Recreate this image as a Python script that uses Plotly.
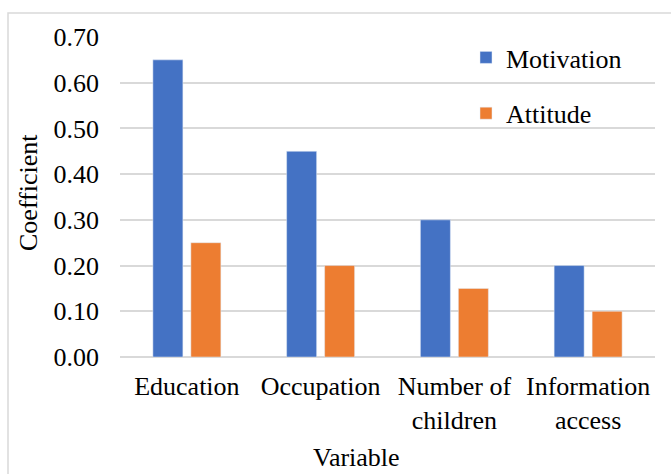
import plotly.graph_objects as go

# Regression coefficients by explanatory variable
categories = ["Education", "Occupation", "Number of<br>children", "Information<br>access"]
motivation = [0.65, 0.45, 0.30, 0.20]
attitude = [0.25, 0.20, 0.15, 0.10]
y_ticks = [0.0, 0.1, 0.2, 0.3, 0.4, 0.5, 0.6, 0.7]

W, H = 671, 474
ML, MR, MT, MB = 120, 16, 37, 117
PW, PH = W - ML - MR, H - MT - MB

FONT = "Liberation Serif"
FS = 26
GRID = "#D9D9D9"


def px_x(px):
    return (px - ML) / PW


def px_y(py):
    return (H - MB - py) / PH


fig = go.Figure()
fig.add_trace(go.Bar(name="Motivation", x=categories, y=motivation,
                     marker_color="#4472C4", legendgroup="m"))
fig.add_trace(go.Bar(name="Attitude", x=categories, y=attitude,
                     marker_color="#ED7D31", legendgroup="a"))

fig.update_layout(
    width=W, height=H,
    margin=dict(l=ML, r=MR, t=MT, b=MB, pad=0),
    paper_bgcolor="white", plot_bgcolor="white",
    font=dict(family=FONT, size=FS, color="black"),
    barmode="group", bargap=0.432, bargroupgap=0.21,
    showlegend=True,
    legend=dict(x=px_x(466), y=px_y(34), xanchor="left", yanchor="top",
                bgcolor="rgba(0,0,0,0)", tracegroupgap=19,
                font=dict(family=FONT, size=FS)),
    xaxis=dict(showgrid=False, showline=False, ticks="", ticklabelstandoff=11,
               tickfont=dict(family=FONT, size=FS)),
    yaxis=dict(range=[0, 0.7], tickvals=y_ticks, tickformat=".2f",
               showgrid=True, gridcolor=GRID, gridwidth=1.5,
               zeroline=True, zerolinecolor=GRID, zerolinewidth=1.5,
               showline=False, ticks="", ticklabelstandoff=20,
               tickfont=dict(family=FONT, size=FS)),
    annotations=[
        dict(text="Coefficient", xref="paper", yref="paper", x=px_x(28), y=px_y(193),
             textangle=-90, showarrow=False, xanchor="center", yanchor="middle",
             font=dict(family=FONT, size=FS)),
        dict(text="Variable", xref="paper", yref="paper", x=px_x(356), y=px_y(457),
             showarrow=False, xanchor="center", yanchor="middle",
             font=dict(family=FONT, size=FS)),
    ],
    shapes=[
        dict(type="rect", xref="paper", yref="paper",
             x0=px_x(8), x1=px_x(W + 10), y0=px_y(13), y1=px_y(H + 10),
             line=dict(color=GRID, width=1.5), fillcolor="rgba(0,0,0,0)", layer="below"),
    ],
)

fig.write_html("out.html")
